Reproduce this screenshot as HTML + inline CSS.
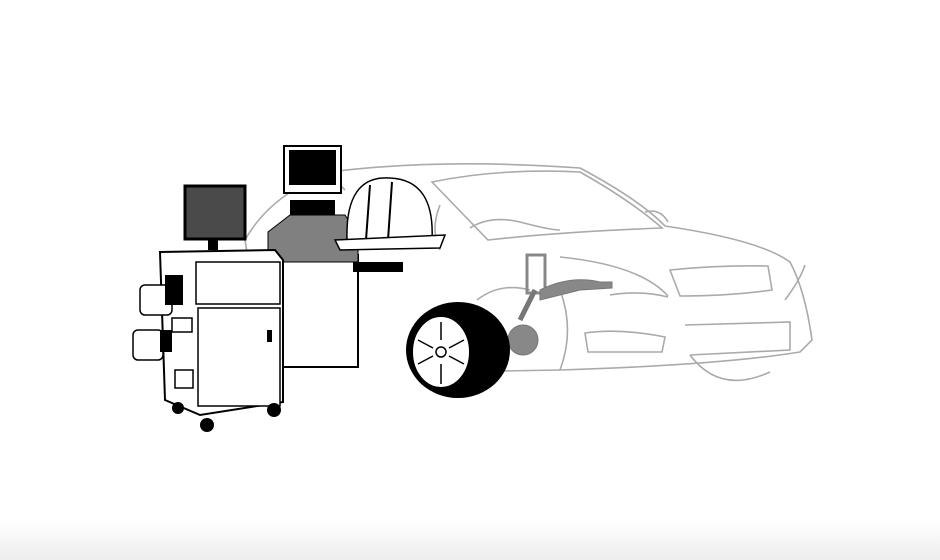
<!DOCTYPE html>
<html><head><style>html,body{margin:0;padding:0;background:#fff}svg{display:block}</style></head>
<body>
<svg width="940" height="560" viewBox="0 0 940 560" xmlns="http://www.w3.org/2000/svg">
<defs><linearGradient id="bg" x1="0" y1="0" x2="0" y2="1"><stop offset="0" stop-color="#fff"/><stop offset="0.93" stop-color="#fff"/><stop offset="1" stop-color="#ededed"/></linearGradient></defs>
<rect width="940" height="560" fill="url(#bg)"/>
<!-- car -->
<g fill="none" stroke="#aaa" stroke-width="1.6">
<path d="M245,240 Q270,195 330,172 Q440,158 580,168 Q640,200 665,226 Q760,240 790,262 Q805,290 812,340 L800,352 Q720,365 560,370 L440,372"/>
<path d="M432,182 Q500,168 580,172 Q630,200 662,228 Q560,232 488,240 Z"/>
<path d="M470,228 Q490,215 520,222 Q550,230 560,230"/>
<path d="M645,212 Q660,208 668,222"/>
<path d="M560,257 Q640,265 668,296"/>
<path d="M610,295 Q640,290 668,297"/>
<path d="M670,270 Q720,265 768,266 L772,290 Q730,296 680,296 Z"/>
<path d="M585,333 Q620,328 665,337 L662,352 L588,352 Z"/>
<path d="M685,325 L790,322 L790,350 L690,355"/>
<path d="M690,355 Q720,395 770,372"/>
<path d="M560,290 Q575,330 560,370"/>
<path d="M477,300 Q500,282 530,290"/>
<path d="M440,205 Q430,230 440,250"/>
<path d="M245,240 Q250,280 290,360"/>
<path d="M330,175 L345,190"/>
<path d="M785,300 Q800,280 805,265"/>
</g>
<!-- suspension -->
<g stroke="#777" fill="#888">
<rect x="527" y="255" width="18" height="38" fill="none" stroke="#888" stroke-width="3"/>
<line x1="535" y1="290" x2="520" y2="320" stroke-width="5"/>
<path d="M540,290 Q570,275 600,282 L612,282 L612,288 L580,290 Q560,295 540,300Z"/>
<circle cx="523" cy="340" r="15"/>
</g>
<!-- wheel -->
<ellipse cx="458" cy="350" rx="52" ry="48" fill="#000"/>
<ellipse cx="441" cy="352" rx="29" ry="36" fill="#fff" stroke="#000" stroke-width="2"/>
<g stroke="#000" stroke-width="1.5" fill="none">
<circle cx="441" cy="352" r="5"/>
<path d="M441,322 L441,340 M441,364 L441,384 M418,340 L433,348 M449,356 L464,364 M418,364 L433,356 M449,348 L464,340"/>
</g>
<!-- second unit -->
<rect x="268" y="255" width="90" height="112" fill="#fff" stroke="#000" stroke-width="2"/>
<path d="M268,232 L290,215 L345,215 L358,235 L358,262 L268,262 Z" fill="#808080" stroke="#000"/>
<rect x="290" y="200" width="45" height="15" fill="#000"/>
<rect x="284" y="146" width="57" height="47" fill="#fff" stroke="#000" stroke-width="2"/>
<rect x="289" y="150" width="47" height="35" fill="#000"/>
<rect x="353" y="262" width="50" height="10" fill="#000"/>
<!-- helmet-like -->
<path d="M347,240 Q345,175 390,178 Q435,180 432,240 Z" fill="#fff" stroke="#000" stroke-width="1.5"/>
<path d="M370,185 L366,240 M392,182 L388,240" stroke="#000" stroke-width="2"/>
<path d="M335,240 L445,235 L440,248 L340,250 Z" fill="#fff" stroke="#000" stroke-width="1.5"/>
<!-- left cart -->
<rect x="185" y="186" width="60" height="53" fill="#4a4a4a" stroke="#000" stroke-width="3"/>
<rect x="208" y="238" width="10" height="12" fill="#000"/>
<path d="M160,252 L275,250 L283,260 L283,402 L200,415 L165,400 Z" fill="#fff" stroke="#000" stroke-width="2"/>
<rect x="196" y="262" width="84" height="42" fill="#fff" stroke="#000" stroke-width="1.5"/>
<rect x="198" y="308" width="82" height="98" fill="#fff" stroke="#000" stroke-width="1.5"/>
<rect x="267" y="330" width="5" height="12" fill="#000"/>
<circle cx="207" cy="425" r="7" fill="#000"/><circle cx="274" cy="410" r="7" fill="#000"/><circle cx="178" cy="408" r="6" fill="#000"/>
<g fill="#fff" stroke="#000" stroke-width="1.5">
<rect x="140" y="285" width="32" height="30" rx="5"/>
<rect x="133" y="330" width="30" height="30" rx="5"/>
<rect x="172" y="318" width="20" height="14"/>
<rect x="175" y="370" width="18" height="18"/>
</g>
<rect x="165" y="275" width="18" height="30" fill="#000"/>
<rect x="160" y="330" width="12" height="22" fill="#000"/>
</svg>
</body></html>
